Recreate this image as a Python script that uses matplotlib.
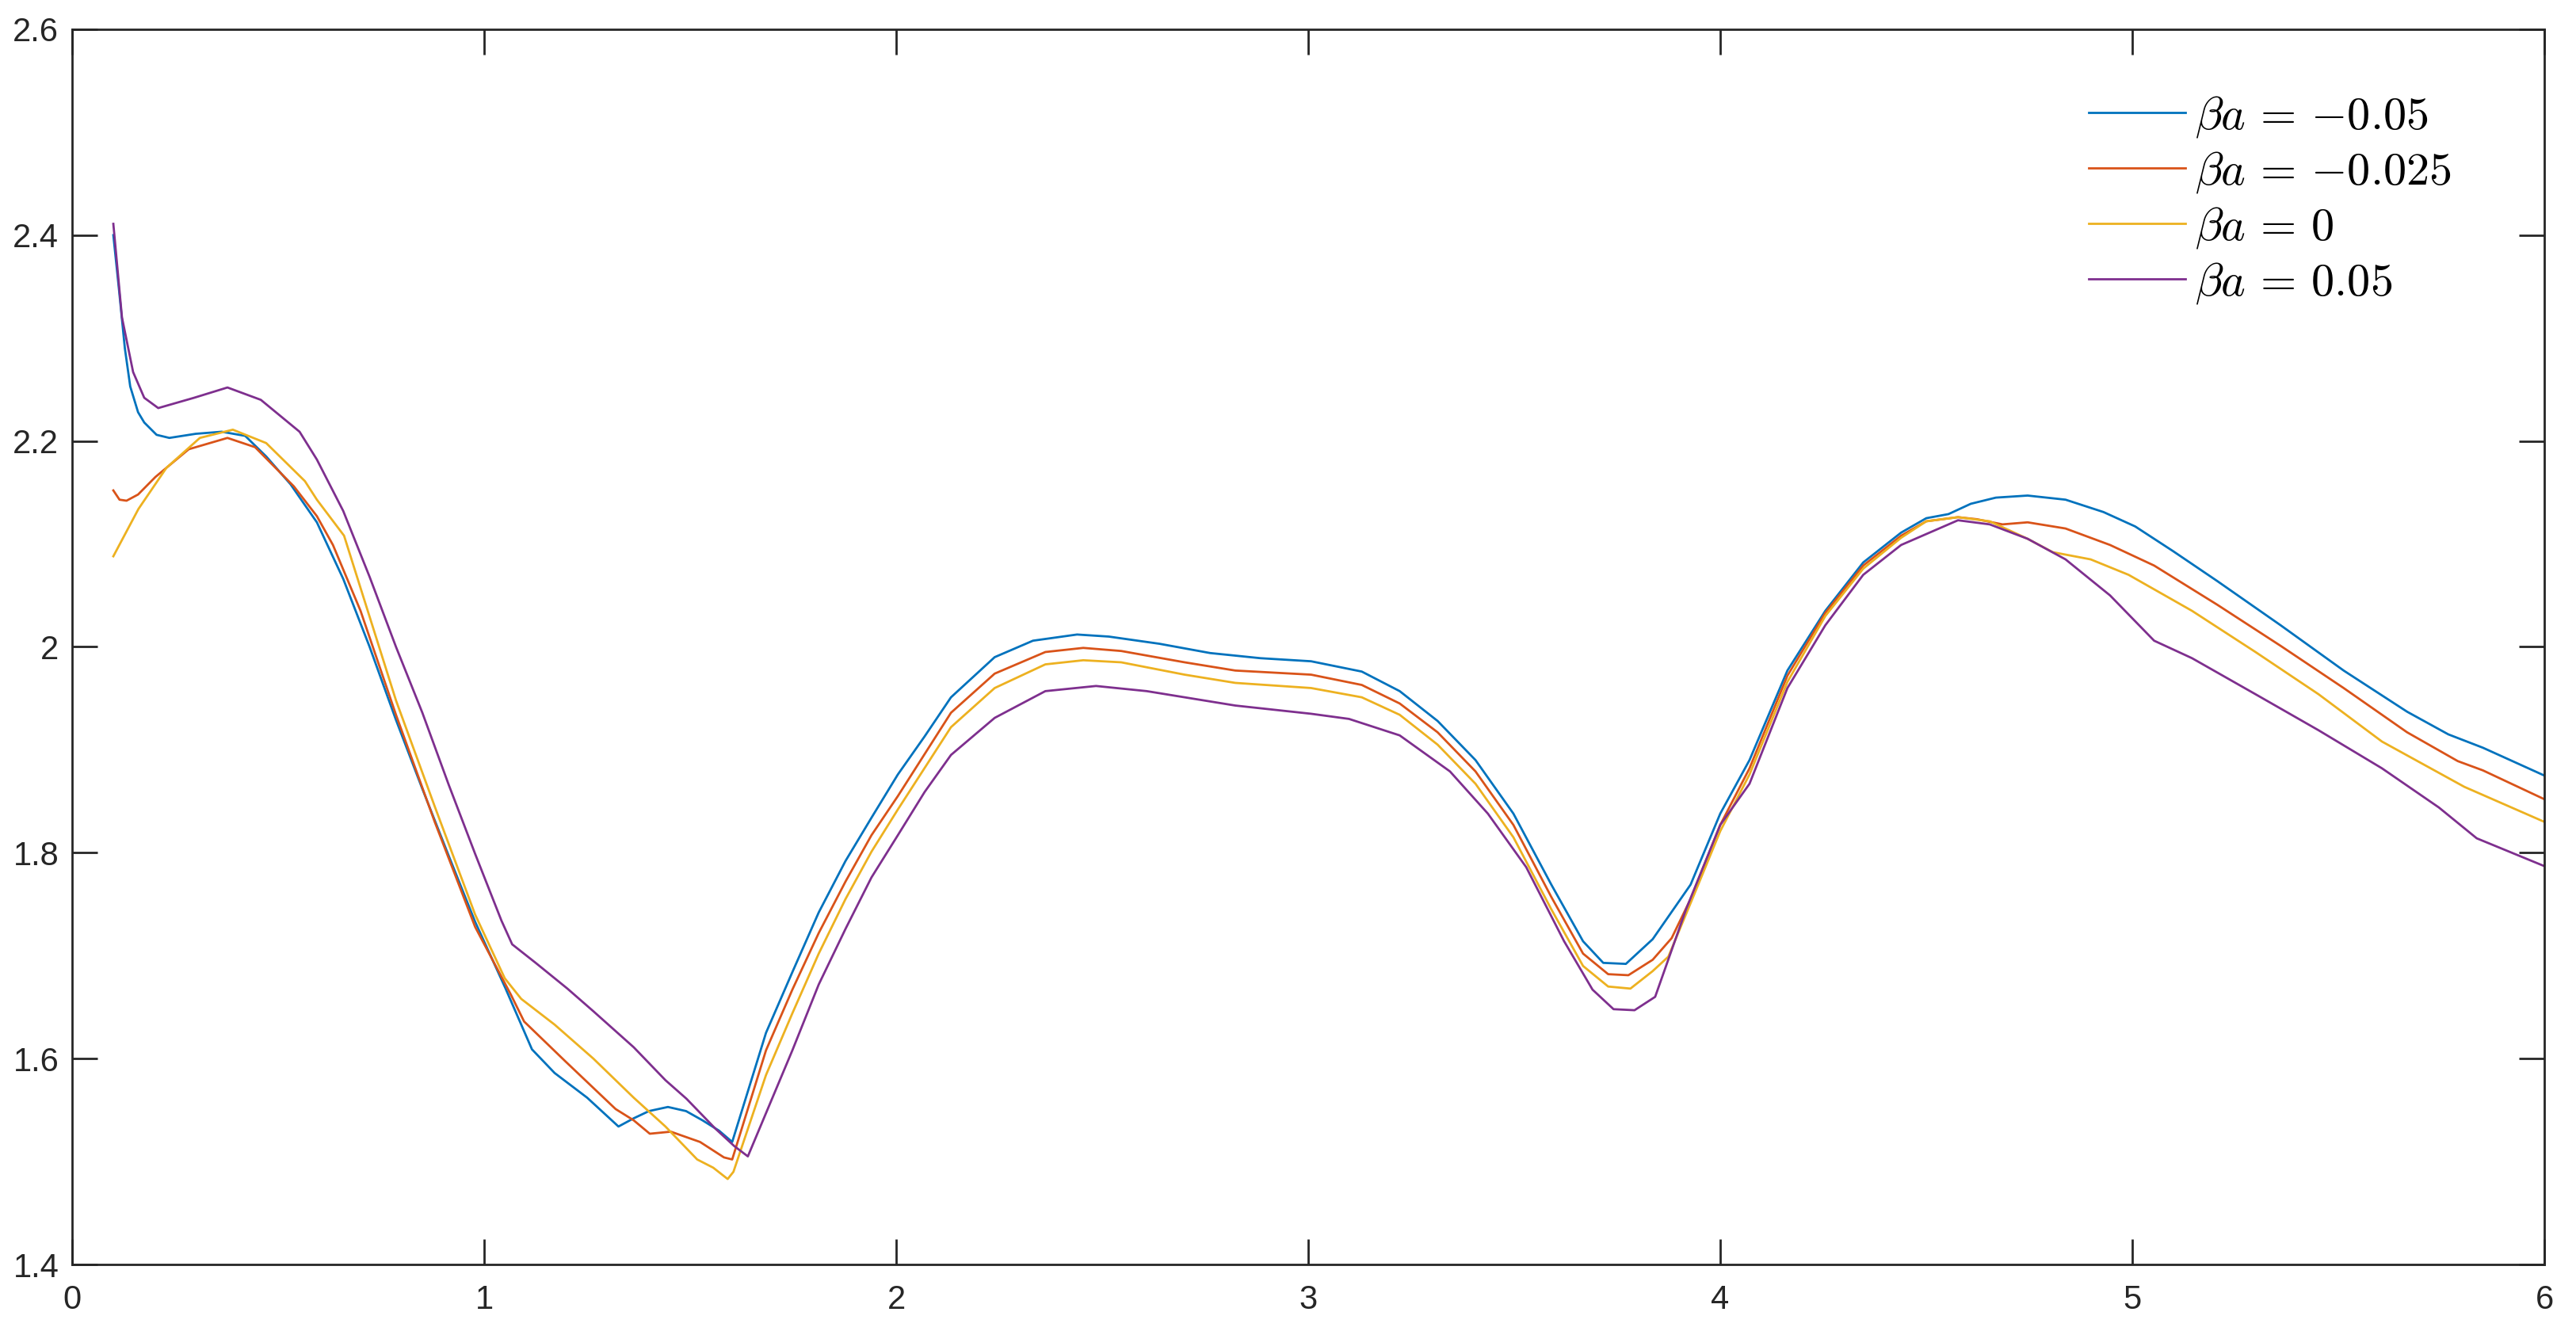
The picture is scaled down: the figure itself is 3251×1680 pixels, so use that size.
import numpy as np
import matplotlib
matplotlib.use('Agg')
import matplotlib.pyplot as plt

# input
#
x_m050 = [0.100, 0.114, 0.128, 0.141, 0.160, 0.175, 0.205, 0.236, 0.300, 0.363, 0.420, 0.471,
          0.530, 0.594, 0.658, 0.722, 0.786, 0.850, 0.914, 0.978, 1.052, 1.116, 1.171, 1.250,
          1.326, 1.363, 1.400, 1.446, 1.490, 1.530, 1.570, 1.602, 1.684, 1.748, 1.812, 1.877,
          1.940, 2.004, 2.069, 2.133, 2.239, 2.332, 2.439, 2.516, 2.639, 2.762, 2.884, 3.007,
          3.130, 3.222, 3.314, 3.406, 3.498, 3.590, 3.667, 3.716, 3.771, 3.836, 3.928, 4.000,
          4.071, 4.163, 4.255, 4.347, 4.439, 4.500, 4.554, 4.608, 4.669, 4.746, 4.838, 4.930,
          5.007, 5.099, 5.206, 5.360, 5.513, 5.667, 5.767, 5.851, 6.000]
y_m050 = [2.400, 2.346, 2.290, 2.253, 2.228, 2.218, 2.206, 2.203, 2.207, 2.209, 2.205, 2.185,
          2.158, 2.121, 2.066, 2.000, 1.929, 1.862, 1.797, 1.733, 1.668, 1.609, 1.586, 1.562,
          1.534, 1.542, 1.549, 1.553, 1.549, 1.540, 1.530, 1.519, 1.625, 1.684, 1.742, 1.792,
          1.834, 1.876, 1.913, 1.951, 1.990, 2.006, 2.012, 2.010, 2.003, 1.994, 1.989, 1.986,
          1.976, 1.957, 1.928, 1.890, 1.838, 1.769, 1.714, 1.693, 1.692, 1.716, 1.769, 1.838,
          1.890, 1.977, 2.035, 2.082, 2.111, 2.125, 2.129, 2.139, 2.145, 2.147, 2.143, 2.131,
          2.117, 2.093, 2.064, 2.021, 1.977, 1.937, 1.915, 1.902, 1.875]

x_m025 = [0.100, 0.115, 0.132, 0.160, 0.202, 0.283, 0.377, 0.444, 0.538, 0.594, 0.633, 0.700,
          0.786, 0.880, 0.978, 1.065, 1.097, 1.198, 1.319, 1.363, 1.402, 1.453, 1.524, 1.582,
          1.602, 1.684, 1.748, 1.812, 1.877, 1.940, 2.004, 2.133, 2.239, 2.362, 2.454, 2.546,
          2.700, 2.823, 3.007, 3.130, 3.222, 3.314, 3.406, 3.498, 3.590, 3.667, 3.728, 3.777,
          3.836, 3.882, 3.928, 4.000, 4.071, 4.163, 4.255, 4.347, 4.439, 4.500, 4.577, 4.623,
          4.685, 4.746, 4.838, 4.946, 5.053, 5.206, 5.360, 5.513, 5.667, 5.790, 5.851, 6.000]
y_m025 = [2.152, 2.143, 2.142, 2.148, 2.165, 2.192, 2.203, 2.194, 2.156, 2.127, 2.099, 2.035,
          1.934, 1.830, 1.728, 1.662, 1.636, 1.597, 1.551, 1.540, 1.527, 1.529, 1.519, 1.504,
          1.502, 1.608, 1.667, 1.722, 1.772, 1.817, 1.855, 1.936, 1.974, 1.995, 1.999, 1.996,
          1.985, 1.977, 1.973, 1.963, 1.945, 1.917, 1.879, 1.827, 1.757, 1.702, 1.682, 1.681,
          1.696, 1.717, 1.755, 1.827, 1.882, 1.972, 2.033, 2.079, 2.108, 2.122, 2.126, 2.124,
          2.119, 2.121, 2.115, 2.099, 2.079, 2.041, 2.001, 1.960, 1.917, 1.889, 1.880, 1.852]

x_0 = [0.100, 0.161, 0.229, 0.310, 0.390, 0.471, 0.565, 0.594, 0.660, 0.786, 0.880, 0.978,
       1.050, 1.090, 1.171, 1.265, 1.363, 1.440, 1.517, 1.556, 1.591, 1.605, 1.684, 1.748,
       1.812, 1.877, 1.940, 2.004, 2.133, 2.239, 2.362, 2.454, 2.546, 2.700, 2.823, 3.007,
       3.130, 3.222, 3.314, 3.406, 3.498, 3.590, 3.667, 3.728, 3.782, 3.836, 3.874, 3.928,
       4.000, 4.071, 4.163, 4.255, 4.347, 4.439, 4.500, 4.577, 4.654, 4.746, 4.807, 4.899,
       4.991, 5.145, 5.299, 5.452, 5.606, 5.806, 6.000]
y_0 = [2.088, 2.134, 2.174, 2.203, 2.211, 2.198, 2.161, 2.143, 2.108, 1.948, 1.845, 1.740,
       1.678, 1.658, 1.633, 1.600, 1.562, 1.534, 1.502, 1.494, 1.483, 1.490, 1.584, 1.644,
       1.702, 1.755, 1.801, 1.842, 1.922, 1.960, 1.983, 1.987, 1.985, 1.973, 1.965, 1.960,
       1.951, 1.934, 1.905, 1.867, 1.815, 1.745, 1.690, 1.670, 1.668, 1.685, 1.699, 1.751,
       1.821, 1.876, 1.966, 2.030, 2.076, 2.106, 2.122, 2.126, 2.122, 2.105, 2.092, 2.085,
       2.070, 2.035, 1.995, 1.954, 1.908, 1.864, 1.830]

x_p050 = [0.100, 0.121, 0.148, 0.175, 0.209, 0.296, 0.377, 0.458, 0.552, 0.594, 0.658, 0.722,
          0.786, 0.850, 0.914, 0.978, 1.042, 1.068, 1.125, 1.202, 1.265, 1.363, 1.440, 1.491,
          1.561, 1.607, 1.640, 1.748, 1.812, 1.877, 1.940, 2.004, 2.069, 2.133, 2.239, 2.362,
          2.485, 2.608, 2.823, 3.007, 3.099, 3.222, 3.344, 3.436, 3.529, 3.621, 3.690, 3.741,
          3.792, 3.842, 3.917, 4.000, 4.071, 4.163, 4.255, 4.347, 4.439, 4.577, 4.654, 4.746,
          4.838, 4.946, 5.053, 5.145, 5.299, 5.452, 5.606, 5.744, 5.836, 6.000]
y_p050 = [2.411, 2.320, 2.267, 2.242, 2.232, 2.242, 2.252, 2.240, 2.209, 2.182, 2.132, 2.068,
          2.000, 1.936, 1.866, 1.799, 1.734, 1.711, 1.693, 1.668, 1.646, 1.611, 1.579, 1.561,
          1.532, 1.515, 1.505, 1.608, 1.672, 1.726, 1.776, 1.817, 1.859, 1.895, 1.931, 1.957,
          1.962, 1.957, 1.943, 1.935, 1.930, 1.914, 1.879, 1.838, 1.786, 1.714, 1.667, 1.648,
          1.647, 1.660, 1.745, 1.827, 1.867, 1.960, 2.021, 2.070, 2.099, 2.123, 2.119, 2.105,
          2.085, 2.050, 2.006, 1.989, 1.954, 1.919, 1.882, 1.844, 1.814, 1.787]

labels = [r'$\beta a \,=\, {-0.05}$', r'$\beta a \,=\, {-0.025}$', r'$\beta a \,=\, 0$', r'$\beta a \,=\, 0.05$']
x_ticks = [0, 1, 2, 3, 4, 5, 6]
y_ticks = [1.4, 1.6, 1.8, 2.0, 2.2, 2.4, 2.6]
y_tick_labels = ['1.4', '1.6', '1.8', '2', '2.2', '2.4', '2.6']

# prepare
#
plt.rcParams['font.family'] = ['Liberation Sans', 'DejaVu Sans']
plt.rcParams['mathtext.fontset'] = 'cm'
axis_color = '#262626'
colors = ['#0072BD', '#D95319', '#EDB120', '#7E2F8E']

# plot
#
fig = plt.figure(figsize=(16.255, 8.4), dpi=200)
ax = fig.add_axes([0.028, 0.05, 0.9597, 0.928])

series = [(x_m050, y_m050), (x_m025, y_m025), (x_0, y_0), (x_p050, y_p050)]
for (xs, ys), c, lab in zip(series, colors, labels):
  ax.plot(xs, ys, color=c, lw=1.0, label=lab)

ax.set_xlim(0, 6)
ax.set_ylim(1.4, 2.6)
ax.set_xticks(x_ticks)
ax.set_yticks(y_ticks)
ax.set_yticklabels(y_tick_labels)

# label
#
for s in ax.spines.values():
  s.set_color(axis_color)
  s.set_linewidth(1.0)
ax.tick_params(axis='both', direction='in', length=11.5, width=1.0, color=axis_color,
               labelcolor=axis_color, labelsize=15, top=True, right=True)
ax.tick_params(axis='x', pad=9)
ax.tick_params(axis='y', pad=6)

ax.legend(loc='upper left', bbox_to_anchor=(0.8108, 0.929), bbox_transform=fig.transFigure,
          frameon=False, fontsize=21, handlelength=2.1, handletextpad=0.2,
          labelspacing=0.22, borderpad=0, borderaxespad=0)

# output
#
plt.savefig('out.png', dpi=200)
